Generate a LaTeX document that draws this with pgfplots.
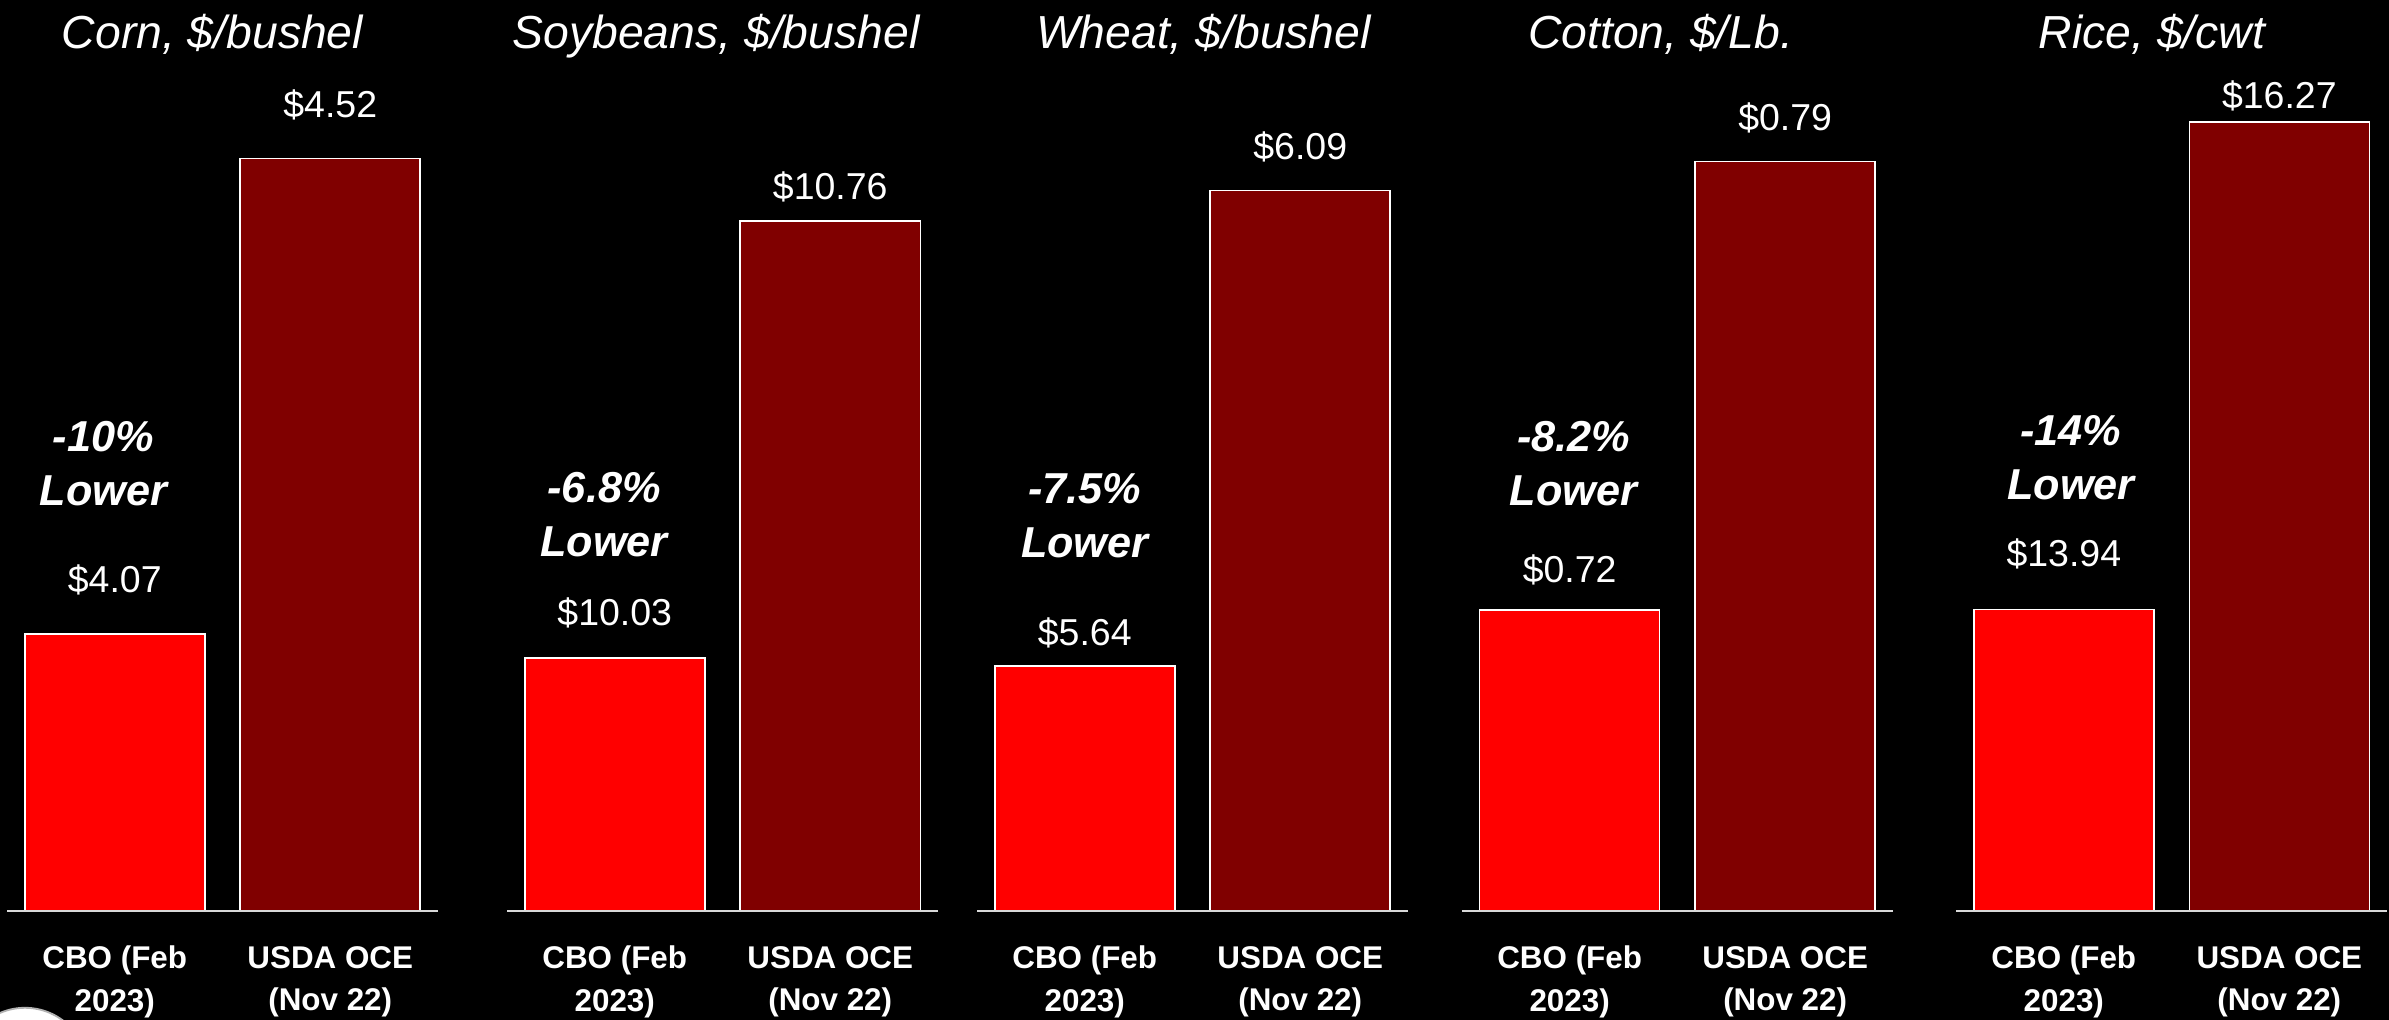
\documentclass[border=0pt]{standalone}
\usepackage{pgfplots}
\pgfplotsset{compat=1.18}
\usepackage{fontspec}
\setmainfont{Liberation Sans}
\definecolor{cbo}{RGB}{255,0,0}
\definecolor{usda}{RGB}{128,0,0}
\definecolor{axgray}{RGB}{217,217,217}

\pgfplotsset{
  panel/.style={
    anchor=south west,
    scale only axis,
    width=141.45pt, height=269.12pt,
    xmin=-0.5, xmax=1.5,
    axis x line*=bottom,
    axis y line=none,
    x axis line style={draw=axgray, line width=0.8pt},
    xtick={0,1},
    xticklabels={{CBO (Feb\\2023)},{USDA OCE\\(Nov 22)}},
    major tick length=0pt,
    xticklabel style={align=center, text=white, font=\fontsize{10.3}{14}\selectfont\bfseries, anchor=north, yshift=-8pt},
    ytick=\empty,
    clip mode=individual,
    axis on top,
  },
  cbobar/.style={ybar, bar shift=0pt, bar width=59.08pt, fill=cbo, draw=white, line width=0.5pt},
  usdabar/.style={ybar, bar shift=0pt, bar width=59.08pt, fill=usda, draw=white, line width=0.5pt},
}

\begin{document}
\begin{tikzpicture}[
  val/.style={anchor=base, text=white, font=\fontsize{12.3}{14}\selectfont, inner sep=0pt},
  ann/.style={anchor=center, align=center, text=white, font=\fontsize{14.2}{17.7}\selectfont\bfseries\itshape, inner sep=0pt},
  ttl/.style={anchor=base, text=white, yshift=14.1pt, font=\fontsize{15.2}{18}\selectfont\itshape, inner sep=0pt},
]
\fill[black] (0pt,0pt) rectangle (784.07pt,334.76pt);
\fill[white, draw=gray!60, line width=0.6pt] (8.2pt,-16.7pt) circle (20.7pt);

% Corn
\begin{axis}[panel, at={(2.30pt,35.77pt)}, ymin=3.8079, ymax=4.5839]
\addplot[cbobar] coordinates {(0,4.07)};
\addplot[usdabar] coordinates {(1,4.52)};
\node[val, yshift=13.65pt] at (axis cs:0,4.07) {\$4.07};
\node[val, yshift=13.5pt] at (axis cs:1,4.52) {\$4.52};
\node[ann, xshift=-3.7pt, yshift=55.8pt] at (axis cs:0,4.07) {-10\%\\Lower};
\node[ttl, xshift=-3.3pt] at (rel axis cs:0.5,1) {Corn, \$/bushel};
\end{axis}

% Soybeans
\begin{axis}[panel, at={(166.4pt,35.77pt)}, ymin=9.607, ymax=10.977]
\addplot[cbobar] coordinates {(0,10.03)};
\addplot[usdabar] coordinates {(1,10.76)};
\node[val, yshift=10.7pt] at (axis cs:0,10.03) {\$10.03};
\node[val, yshift=7.1pt] at (axis cs:1,10.76) {\$10.76};
\node[ann, xshift=-3.5pt, yshift=47.1pt] at (axis cs:0,10.03) {-6.8\%\\Lower};
\node[ttl, xshift=-2.1pt] at (rel axis cs:0.5,1) {Soybeans, \$/bushel};
\end{axis}

% Wheat
\begin{axis}[panel, at={(320.65pt,35.77pt)}, ymin=5.408, ymax=6.184]
\addplot[cbobar] coordinates {(0,5.64)};
\addplot[usdabar] coordinates {(1,6.09)};
\node[val, yshift=6.8pt] at (axis cs:0,5.64) {\$5.64};
\node[val, yshift=10.2pt] at (axis cs:1,6.09) {\$6.09};
\node[ann, xshift=0pt, yshift=49.4pt] at (axis cs:0,5.64) {-7.5\%\\Lower};
\node[ttl, xshift=3.6pt] at (rel axis cs:0.5,1) {Wheat, \$/bushel};
\end{axis}

% Cotton
\begin{axis}[panel, at={(479.8pt,35.77pt)}, ymin=0.673, ymax=0.801]
\addplot[cbobar] coordinates {(0,0.72)};
\addplot[usdabar] coordinates {(1,0.79)};
\node[val, yshift=9.1pt] at (axis cs:0,0.72) {\$0.72};
\node[val, yshift=10.2pt] at (axis cs:1,0.79) {\$0.79};
\node[ann, xshift=1.3pt, yshift=48.1pt] at (axis cs:0,0.72) {-8.2\%\\Lower};
\node[ttl, xshift=-5.5pt] at (rel axis cs:0.5,1) {Cotton, \$/Lb.};
\end{axis}

% Rice
\begin{axis}[panel, at={(641.98pt,35.77pt)}, ymin=12.498, ymax=16.418]
\addplot[cbobar] coordinates {(0,13.94)};
\addplot[usdabar] coordinates {(1,16.27)};
\node[val, yshift=14.1pt] at (axis cs:0,13.94) {\$13.94};
\node[val, yshift=4.4pt] at (axis cs:1,16.27) {\$16.27};
\node[ann, xshift=2.3pt, yshift=49.7pt] at (axis cs:0,13.94) {-14\%\\Lower};
\node[ttl, xshift=-6.4pt] at (rel axis cs:0.5,1) {Rice, \$/cwt};
\end{axis}

\pgfresetboundingbox
\path[use as bounding box] (0pt,0pt) rectangle (784.07pt,334.76pt);
\end{tikzpicture}
\end{document}
